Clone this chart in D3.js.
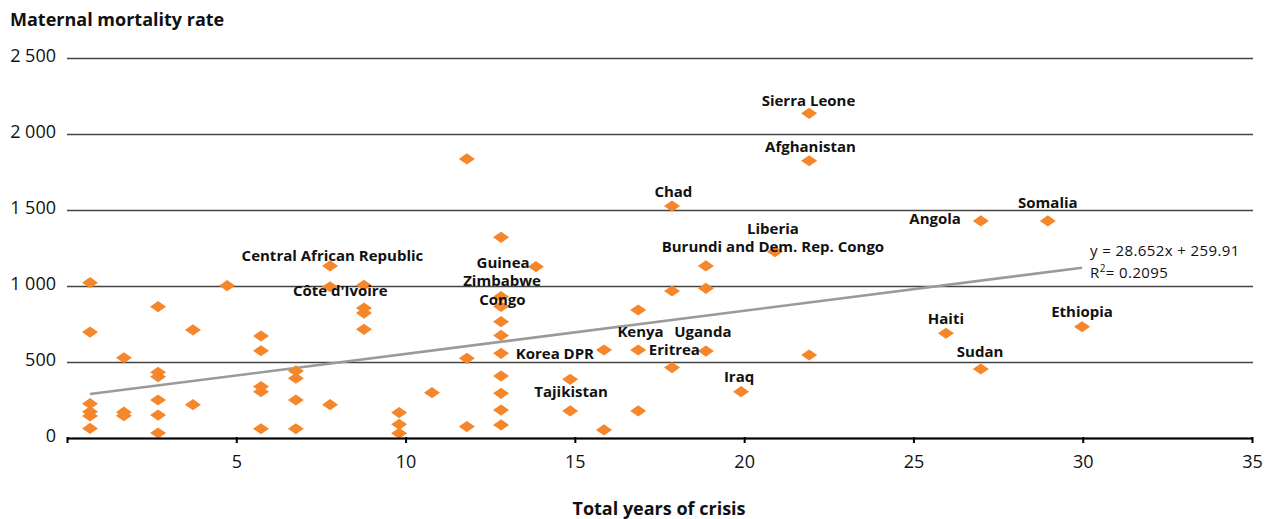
<!DOCTYPE html>
<html>
<head>
<meta charset="utf-8">
<script src="https://cdn.jsdelivr.net/npm/d3@7"></script>
<style>
  body { margin: 0; background: #fff; }
  svg { display: block; font-family: "Open Sans", sans-serif; }
</style>
</head>
<body>
<svg id="chart" width="1268" height="519"></svg>
<script>
// years of crisis, as they sit on the drawn axis (one entry per column of points)
const crisisYears = [0.68, 1.68, 2.69, 3.72, 4.73, 5.73, 6.76, 7.77, 8.77, 9.81,
                     10.78, 11.81, 12.82, 13.85, 14.86, 15.86, 16.87, 17.87, 18.87, 19.91,
                     20.91, 21.92, 25.96, 26.99, 28.97, 29.98];

// maternal mortality rates in each column
const mortality = [
  [1022, 697, 226, 173, 145, 63],
  [528, 170, 147],
  [864, 432, 403, 250, 151, 33],
  [711, 219],
  [1002],
  [671, 574, 338, 305, 61],
  [441, 393, 250, 61],
  [1132, 995, 219],
  [1005, 855, 822, 715],
  [167, 90, 31],
  [298],
  [1836, 524, 75],
  [1320, 930, 865, 765, 675, 557, 408, 294, 184, 86],
  [1127],
  [386, 178],
  [579, 53],
  [842, 579, 178],
  [1526, 967, 463],
  [1132, 985, 572],
  [305],
  [1226],
  [2136, 1824, 546],
  [689],
  [1428, 454],
  [1428],
  [732]
];

// country labels: text, x (years), y (rate) of the text baseline
const labelNames = ["Sierra Leone", "Afghanistan", "Chad", "Somalia", "Angola", "Liberia",
  "Burundi and Dem. Rep. Congo", "Central African Republic", "Guinea", "Zimbabwe",
  "Côte d'Ivoire", "Congo", "Ethiopia", "Haiti", "Kenya", "Uganda", "Eritrea", "Sudan",
  "Korea DPR", "Iraq", "Tajikistan"];
const labelX = [21.90, 21.96, 17.91, 28.97, 25.64, 20.85, 20.85, 7.84, 12.88, 12.85,
  8.07, 12.86, 29.98, 25.96, 16.94, 18.78, 17.94, 26.97, 14.41, 19.85, 14.89];
const labelY = [2184, 1882, 1588, 1513, 1408, 1344, 1224, 1166, 1118, 1000,
  934, 875, 796, 750, 664, 664, 546, 533, 520, 368, 270];

// linear trend as drawn (start and end)
const trendX = [0.68, 29.98];
const trendY = [289, 1120];

const yTicks = [0, 500, 1000, 1500, 2000, 2500];
const xTicks = [0, 5, 10, 15, 20, 25, 30, 35];

const orange = "#f5862a";

const svg = d3.select("#chart");

const x = d3.scaleLinear().domain([0, 35]).range([67, 1252]);
const y = d3.scaleLinear().domain([0, 2500]).range([438, 58]);

const fmt = d3.formatLocale({ decimal: ".", thousands: "\u00a0", grouping: [3], currency: ["", ""] }).format(",d");

// y gridlines + labels
const yAxis = svg.append("g")
  .attr("transform", "translate(67,0)")
  .call(d3.axisLeft(y).tickValues(yTicks).tickFormat(fmt)
    .tickSize(-(1253 - 67)).tickPadding(11));
yAxis.select(".domain").remove();
yAxis.selectAll(".tick line").attr("stroke", "#444").attr("stroke-width", 1.3);
yAxis.selectAll(".tick text")
  .attr("font-size", 18).attr("fill", "#111").attr("dy", "0.18em")
  .style("font-family", "'Open Sans', sans-serif");

// trend line
svg.append("line")
  .attr("x1", x(trendX[0])).attr("y1", y(trendY[0]))
  .attr("x2", x(trendX[1])).attr("y2", y(trendY[1]))
  .attr("stroke", "#9a9a9a").attr("stroke-width", 2.6);

// points
const points = [];
crisisYears.forEach((yr, i) => {
  mortality[i].forEach(v => points.push({ yr: yr, v: v }));
});

svg.append("g").selectAll("path")
  .data(points)
  .join("path")
  .attr("d", "M0,-5.6L8,0L0,5.6L-8,0Z")
  .attr("transform", d => `translate(${x(d.yr)},${y(d.v)})`)
  .attr("fill", orange);

// x axis
const xAxis = svg.append("g")
  .attr("transform", "translate(0,438)")
  .call(d3.axisBottom(x).tickValues(xTicks).tickFormat(d => d === 0 ? "" : d)
    .tickSize(5).tickSizeOuter(0).tickPadding(12));
xAxis.select(".domain").attr("stroke", "#000").attr("stroke-width", 2);
xAxis.selectAll(".tick line").attr("stroke", "#000").attr("stroke-width", 2).attr("y1", -1);
xAxis.selectAll(".tick text")
  .attr("font-size", 18).attr("fill", "#111")
  .style("font-family", "'Open Sans', sans-serif");

// country labels
svg.append("g").selectAll("text")
  .data(labelNames)
  .join("text")
  .attr("x", (d, i) => x(labelX[i]))
  .attr("y", (d, i) => y(labelY[i]))
  .attr("text-anchor", "middle")
  .attr("font-size", 15)
  .attr("font-weight", 700)
  .attr("fill", "#111")
  .text(d => d);

// equation
const eq = svg.append("text")
  .attr("x", 1090).attr("y", 256)
  .attr("font-size", 15).attr("letter-spacing", 0.4).attr("fill", "#111");
eq.append("tspan").text("y = 28.652x + 259.91");
const r2 = svg.append("text")
  .attr("x", 1090).attr("y", 278)
  .attr("font-size", 15).attr("letter-spacing", 0.4).attr("fill", "#111");
r2.append("tspan").text("R");
r2.append("tspan").attr("font-size", 10).attr("dy", -6).text("2");
r2.append("tspan").attr("dy", 6).text("= 0.2095");

// titles
svg.append("text")
  .attr("x", 10).attr("y", 26)
  .attr("font-size", 18).attr("font-weight", 700).attr("fill", "#111")
  .text("Maternal mortality rate");

svg.append("text")
  .attr("x", 659).attr("y", 515)
  .attr("text-anchor", "middle")
  .attr("font-size", 18).attr("font-weight", 700).attr("fill", "#111")
  .text("Total years of crisis");
</script>
</body>
</html>
